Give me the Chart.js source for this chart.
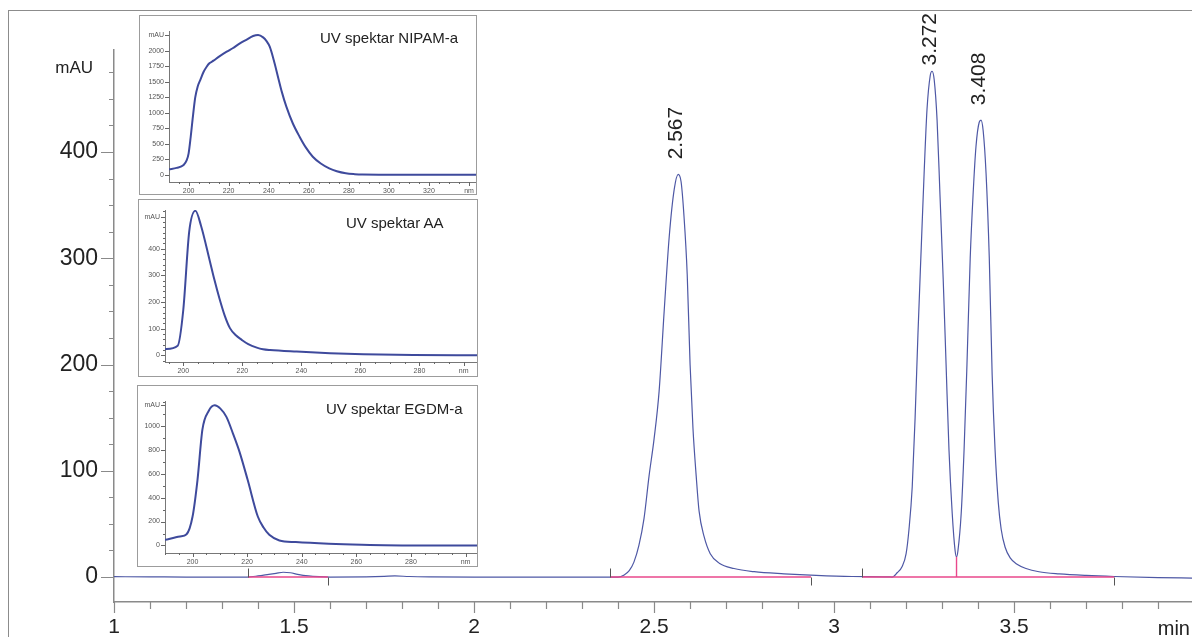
<!DOCTYPE html>
<html>
<head>
<meta charset="utf-8">
<script src="https://cdn.jsdelivr.net/npm/chart.js@4.4.1/dist/chart.umd.min.js"></script>
<style>
html,body{margin:0;padding:0;background:#fff;}
body{width:1192px;height:637px;position:relative;overflow:hidden;font-family:'Liberation Sans',Arial,sans-serif;}
#frame{position:absolute;left:8px;top:10px;width:1184px;height:627px;border-top:1px solid #8c8c8c;border-left:1px solid #8c8c8c;box-sizing:border-box;}
#main{position:absolute;left:0;top:0;}
.inset{position:absolute;border:1px solid #9c9c9c;background:#fff;}
.inset canvas{position:absolute;left:0;top:0;}
.txt{position:absolute;white-space:nowrap;line-height:1;color:#222;}
.ititle{font-size:15px;}
</style>
</head>
<body>
<div id="frame"></div>
<canvas id="main" width="1192" height="637"></canvas>
<div class="inset" style="left:139px;top:15px;width:336px;height:178px;"><canvas id="c1" width="336" height="178"></canvas></div>
<div class="inset" style="left:138px;top:199px;width:338px;height:176px;"><canvas id="c2" width="338" height="176"></canvas></div>
<div class="inset" style="left:137px;top:385px;width:339px;height:180px;"><canvas id="c3" width="339" height="180"></canvas></div>
<div class="txt ititle" style="left:320px;top:30px;">UV spektar NIPAM-a</div>
<div class="txt ititle" style="left:346px;top:215px;">UV spektar AA</div>
<div class="txt ititle" style="left:326px;top:401px;">UV spektar EGDM-a</div>
<div class="txt" style="right:1099px;top:59px;font-size:17px;text-align:right;">mAU</div>
<div class="txt" style="right:2px;top:618px;font-size:20px;text-align:right;">min</div>
<script>
// ---------- main chromatogram ----------
const retentionTime = [1.00, 1.10, 1.20, 1.30, 1.37, 1.40, 1.43, 1.45, 1.47, 1.49, 1.51, 1.54, 1.57, 1.60, 1.70, 1.75, 1.78, 1.82, 1.88, 2.00, 2.20, 2.35, 2.40,
  2.417, 2.431, 2.444, 2.458, 2.472, 2.486, 2.500, 2.514, 2.528, 2.542, 2.556, 2.567, 2.575, 2.583, 2.592, 2.600, 2.608, 2.617, 2.625, 2.639, 2.656, 2.681, 2.722, 2.778, 2.861, 2.950, 3.050, 3.150,
  3.161, 3.175, 3.189, 3.200, 3.208, 3.217, 3.225, 3.233, 3.242, 3.250, 3.258, 3.267, 3.272, 3.278, 3.286, 3.294, 3.303, 3.311, 3.319, 3.328, 3.336, 3.340, 3.344,
  3.353, 3.361, 3.369, 3.378, 3.386, 3.394, 3.403, 3.408, 3.414, 3.422, 3.431, 3.439, 3.447, 3.456, 3.464, 3.475, 3.489, 3.508, 3.533, 3.569, 3.625, 3.700, 3.778, 3.900, 3.994];
const absorbance = [0.3, 0.2, 0, 0, 0, 1, 2.5, 3.5, 4.5, 4, 2.5, 1, 0.3, 0, 0.2, 0.6, 1, 0.5, 0.2, 0, 0, 0, 0,
  2, 6, 14, 30, 55, 95, 130, 175, 250, 320, 365, 379, 372, 340, 285, 200, 140, 95, 62, 38, 22, 13, 8, 5, 3, 1.5, 0.5, 0.2,
  0, 4, 10, 22, 45, 85, 150, 230, 310, 380, 440, 472, 476, 468, 430, 360, 280, 200, 120, 60, 25, 19, 25,
  60, 120, 200, 300, 360, 405, 428, 430, 420, 380, 300, 190, 120, 70, 45, 28, 18, 12, 8, 5, 3, 1.5, 0.5, -0.5, -1];
const peakTimes = [2.567, 3.272, 3.408];
const peakLabels = ['2.567', '3.272', '3.408'];
const integrationStart = [1.372, 2.378, 3.078];
const integrationEnd = [1.594, 2.936, 3.778];
const dropLineTimes = [3.340];
const timeTickLabels = ['1', '1.5', '2', '2.5', '3', '3.5'];
const mauTickLabels = ['0', '100', '200', '300', '400'];

// ---------- UV spectra (insets) ----------
const nipamWavelength = [190.2, 194, 197.5, 199, 200, 201, 202, 203.3, 204.5, 205.8, 207.5, 209, 210.5, 212.4, 215, 219, 222, 225.6, 229, 232.2, 234.7, 237.2, 239, 240.5, 242.5, 244.6, 246.5, 248.8, 252, 255.4, 258.5, 262, 266, 270.2, 274, 278.5, 283, 286.8, 295, 310, 343.5];
const nipamAbs = [86, 110, 156, 230, 344, 600, 900, 1247, 1420, 1527, 1660, 1742, 1800, 1839, 1900, 1984, 2040, 2118, 2180, 2237, 2253, 2215, 2150, 2065, 1850, 1581, 1340, 1097, 830, 613, 440, 290, 180, 102, 55, 22, 8, 2, 0, 0, 0];
const aaWavelength = [193.8, 198.1, 200, 202, 204.1, 206, 209, 210.5, 212.2, 214, 215.8, 217.8, 219.8, 222, 224.9, 227, 229.4, 238.4, 249.7, 261, 277.9, 299.5];
const aaAbs = [23, 36, 171, 464, 542, 486, 353, 285, 215, 150, 102, 75, 58, 42, 29, 23, 20, 14, 8, 4, 1, 0];
const egdmWavelength = [189.9, 195.4, 197.8, 200, 201.8, 203.6, 205.9, 208.1, 210.2, 212.4, 214.8, 217.2, 220.2, 223.9, 226, 228.1, 231.8, 237.8, 249.9, 262, 280.2, 304.2];
const egdmAbs = [47, 75, 94, 242, 547, 969, 1125, 1172, 1144, 1075, 936, 783, 547, 242, 150, 89, 42, 28, 14, 6, 0, 0];
const nipamYLabels = ['0', '250', '500', '750', '1000', '1250', '1500', '1750', '2000'];
const aaYLabels = ['0', '100', '200', '300', '400'];
const egdmYLabels = ['0', '200', '400', '600', '800', '1000'];
const nipamXLabels = ['200', '220', '240', '260', '280', '300', '320'];
const aaXLabels = ['200', '220', '240', '260', '280'];
const egdmXLabels = ['200', '220', '240', '260', '280'];

const NARROW = "'Liberation Sans Narrow','Liberation Sans',Arial,sans-serif";
const SANS = "'Liberation Sans',Arial,sans-serif";
const BLUE = '#4e58a5';
const PINK = '#e9488c';
const INSET_BLUE = '#3e4a9c';

function near(a, b) { return Math.abs(a - b) < 1e-6; }
function isMult(v, m) { return near(v / m, Math.round(v / m)); }
function fmt(v) { return String(Math.round(v * 1000) / 1000); }

function tickPlugin(spec) {
  return {
    id: 'tickMarks',
    afterDraw(chart) {
      const ctx = chart.ctx;
      ctx.save();
      for (const id in spec) {
        const s = spec[id], scale = chart.scales[id];
        ctx.strokeStyle = s.color; ctx.lineWidth = s.width;
        ctx.beginPath();
        scale.ticks.forEach(t => {
          const v = t.value;
          if (v < scale.min - 1e-9 || v > scale.max + 1e-9) return;
          const k = s.kind(v);
          if (!k) return;
          const len = k === 'major' ? s.major : s.minor;
          const p = Math.round(scale.getPixelForValue(v)) + 0.5;
          if (scale.isHorizontal()) { const y0 = scale.top; ctx.moveTo(p, y0); ctx.lineTo(p, y0 + len); }
          else { const x0 = scale.right; ctx.moveTo(x0, p); ctx.lineTo(x0 - len, p); }
        });
        ctx.stroke();
      }
      ctx.restore();
    }
  };
}

function valueAt(t) {
  let best = 0;
  retentionTime.forEach((x, i) => { if (Math.abs(x - t) < Math.abs(retentionTime[best] - t)) best = i; });
  return absorbance[best];
}

const peakPlugin = {
  id: 'peakLabels',
  afterDatasetsDraw(chart) {
    const ctx = chart.ctx, xs = chart.scales.x, ys = chart.scales.y;
    ctx.save();
    ctx.strokeStyle = '#555'; ctx.lineWidth = 1;
    ctx.beginPath();
    const y0 = Math.round(ys.getPixelForValue(0)) + 0.5;
    integrationStart.forEach(t => { const p = Math.round(xs.getPixelForValue(t)) + 0.5; ctx.moveTo(p, y0); ctx.lineTo(p, y0 - 9); });
    integrationEnd.forEach(t => { const p = Math.round(xs.getPixelForValue(t)) + 0.5; ctx.moveTo(p, y0); ctx.lineTo(p, y0 + 8); });
    ctx.stroke();
    ctx.fillStyle = '#222';
    ctx.font = '21px ' + SANS;
    ctx.textAlign = 'left'; ctx.textBaseline = 'middle';
    peakTimes.forEach((t, i) => {
      const px = xs.getPixelForValue(t);
      const py = ys.getPixelForValue(valueAt(t));
      const w = ctx.measureText(peakLabels[i]).width;
      let bottom = py - 15;
      if (bottom - w < 13) bottom = 13 + w;
      ctx.save();
      ctx.translate(px - 2, bottom);
      ctx.rotate(-Math.PI / 2);
      ctx.fillText(peakLabels[i], 0, 0);
      ctx.restore();
    });
    ctx.restore();
  }
};

const chromatogram = retentionTime.map((t, i) => ({ x: t, y: absorbance[i] }));
const baselineData = [];
integrationStart.forEach((s, i) => { baselineData.push({ x: s, y: 0 }, { x: integrationEnd[i], y: 0 }, { x: integrationEnd[i], y: null }); });
const dropData = [];
dropLineTimes.forEach(t => { dropData.push({ x: t, y: 0 }, { x: t, y: valueAt(t) }, { x: t, y: null }); });

new Chart(document.getElementById('main'), {
  type: 'line',
  data: {
    datasets: [
      { data: dropData, borderColor: PINK, borderWidth: 1.4, pointRadius: 0, spanGaps: false, order: 0 },
      { data: baselineData, borderColor: PINK, borderWidth: 1.4, pointRadius: 0, spanGaps: false, order: 1 },
      { data: chromatogram, borderColor: BLUE, borderWidth: 1.2, pointRadius: 0, cubicInterpolationMode: 'monotone', order: 2 }
    ]
  },
  options: {
    responsive: false, animation: false, devicePixelRatio: 1,
    layout: { padding: { top: 50, right: 0, left: 0, bottom: 0 } },
    plugins: { legend: { display: false }, tooltip: { enabled: false } },
    scales: {
      x: {
        type: 'linear', min: 1, max: 3.994,
        afterFit: s => { s.height = 35; },
        border: { display: true, color: '#8a8a8a', width: 1.5 },
        grid: { display: false, drawTicks: true, tickLength: 11 },
        ticks: {
          stepSize: 0.1, autoSkip: false, maxRotation: 0, minRotation: 0, includeBounds: false, padding: 2,
          color: '#222', font: { family: NARROW, size: 21 },
          callback: function (v) {
            if (v > this.max + 1e-9) return '';
            const s = fmt(v);
            return timeTickLabels.includes(s) ? s : '';
          }
        }
      },
      y: {
        type: 'linear', min: -23.5, max: 496,
        afterFit: s => { s.width = 114; },
        border: { display: true, color: '#8a8a8a', width: 1.5 },
        grid: { display: false, drawTicks: true, tickLength: 13 },
        ticks: {
          stepSize: 25, autoSkip: false, includeBounds: false, padding: 3,
          color: '#222', font: { family: NARROW, size: 23 },
          callback: function (v) { const s = fmt(v); return mauTickLabels.includes(s) ? s : ''; }
        }
      }
    }
  },
  plugins: [
    tickPlugin({
      x: { color: '#8a8a8a', width: 1.2, major: 11, minor: 7, kind: v => isMult(v, 0.5) ? 'major' : 'minor' },
      y: { color: '#8a8a8a', width: 1.2, major: 13, minor: 5, kind: v => isMult(v, 100) ? 'major' : 'minor' }
    }),
    peakPlugin
  ]
});

// ---------- inset spectra ----------
function insetChart(id, xs, ys, c) {
  const data = xs.map((x, i) => ({ x: x, y: ys[i] }));
  new Chart(document.getElementById(id), {
    type: 'line',
    data: { datasets: [{ data: data, borderColor: INSET_BLUE, borderWidth: 2, pointRadius: 0, cubicInterpolationMode: 'monotone' }] },
    options: {
      responsive: false, animation: false, devicePixelRatio: 1,
      layout: { padding: { top: c.top, right: 0, left: 0, bottom: 0 } },
      plugins: { legend: { display: false }, tooltip: { enabled: false } },
      scales: {
        x: {
          type: 'linear', min: c.xMin, max: c.xMax,
          afterFit: s => { s.height = c.xh; },
          border: { display: true, color: '#777', width: 1 },
          grid: { display: false, drawTicks: true, tickLength: 4 },
          ticks: {
            stepSize: 5, autoSkip: false, maxRotation: 0, minRotation: 0, includeBounds: false, padding: 1,
            color: '#555', font: { family: SANS, size: 7 },
            callback: function (v) {
              if (near(v, c.nmAt)) return 'nm';
              const s = fmt(v); return c.xLabels.includes(s) ? s : '';
            }
          }
        },
        y: {
          type: 'linear', min: c.yMin, max: c.yMax,
          afterFit: s => { s.width = c.yw; },
          border: { display: true, color: '#777', width: 1 },
          grid: { display: false, drawTicks: true, tickLength: 4 },
          ticks: {
            stepSize: c.yStep, autoSkip: false, includeBounds: false, padding: 1,
            color: '#555', font: { family: SANS, size: 7 },
            callback: function (v) {
              if (near(v, c.mauAt)) return 'mAU';
              const s = fmt(v); return c.yLabels.includes(s) ? s : '';
            }
          }
        }
      }
    },
    plugins: [tickPlugin({
      x: { color: '#666', width: 1, major: 4, minor: 2, kind: v => (c.xLabels.includes(fmt(v)) || near(v, c.nmAt)) ? 'major' : (isMult(v, 5) ? 'minor' : null) },
      y: { color: '#666', width: 1, major: 4, minor: 2, kind: v => (c.yLabels.includes(fmt(v)) || near(v, c.mauAt)) ? 'major' : (isMult(v, c.yMinor) ? 'minor' : null) }
    })]
  });
}

insetChart('c1', nipamWavelength, nipamAbs, {
  xMin: 190.2, xMax: 343.5, yMin: -118, yMax: 2318, yStep: 50, yMinor: 125, mauAt: 2250, nmAt: 340,
  yLabels: nipamYLabels, xLabels: nipamXLabels, top: 15, xh: 12, yw: 29
});
insetChart('c2', aaWavelength, aaAbs, {
  xMin: 193.8, xMax: 299.5, yMin: -25, yMax: 545, yStep: 20, yMinor: 20, mauAt: 520, nmAt: 295,
  yLabels: aaYLabels, xLabels: aaXLabels, top: 10, xh: 14, yw: 26
});
insetChart('c3', egdmWavelength, egdmAbs, {
  xMin: 189.9, xMax: 304.2, yMin: -63, yMax: 1208, yStep: 25, yMinor: 100, mauAt: 1175, nmAt: 300,
  yLabels: egdmYLabels, xLabels: egdmXLabels, top: 15, xh: 13, yw: 27
});
</script>
</body>
</html>
